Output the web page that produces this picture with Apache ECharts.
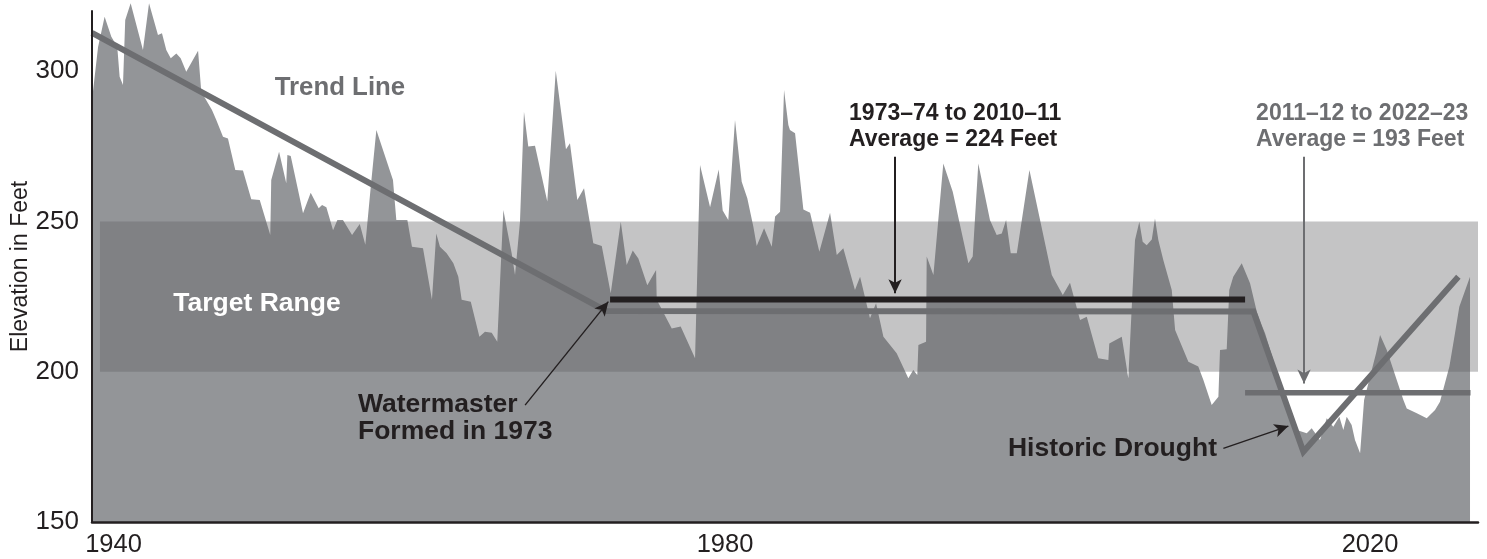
<!DOCTYPE html>
<html><head><meta charset="utf-8">
<script src="https://cdn.jsdelivr.net/npm/echarts@6/dist/echarts.min.js"></script>
<style>html,body{margin:0;padding:0;background:#fff}#c{width:1487px;height:559px}</style>
</head><body><div id="c"></div>
<script>
// ---- data ----
const areaYears = [1940.00,1940.38,1940.79,1941.21,1941.58,1941.73,1941.94,1942.08,1942.42,1943.19,1943.57,1944.13,1944.38,1944.65,1944.93,1945.28,1945.55,1945.90,1946.64,1946.84,1947.51,1947.78,1948.20,1948.51,1948.97,1949.45,1949.97,1950.50,1951.16,1951.22,1951.71,1952.16,1952.23,1952.44,1953.21,1953.69,1954.19,1954.40,1954.67,1955.09,1955.36,1955.71,1956.28,1956.76,1957.11,1957.45,1957.80,1958.84,1959.05,1959.74,1960.03,1960.72,1961.28,1961.55,1961.78,1962.20,1962.62,1962.93,1963.14,1963.71,1964.25,1964.60,1965.02,1965.37,1965.75,1966.27,1966.48,1966.79,1967.04,1967.31,1967.73,1968.50,1969.03,1969.67,1969.92,1970.38,1970.80,1971.38,1971.91,1972.47,1973.10,1973.47,1973.85,1974.20,1974.76,1975.31,1975.35,1976.29,1976.85,1977.75,1978.06,1978.69,1979.23,1979.48,1979.83,1980.25,1980.67,1981.02,1981.40,1981.61,1982.07,1982.55,1982.76,1983.07,1983.32,1983.59,1983.69,1984.01,1984.53,1984.95,1985.53,1986.20,1986.62,1987.03,1987.76,1988.08,1988.70,1989.08,1989.54,1990.37,1991.10,1991.41,1991.66,1991.73,1992.21,1992.25,1992.67,1993.29,1993.88,1994.86,1995.13,1995.48,1996.21,1996.63,1996.95,1997.22,1997.51,1997.89,1998.68,2000.08,2000.77,2001.22,2001.85,2002.27,2002.99,2003.62,2003.68,2004.46,2004.87,2005.29,2005.56,2005.77,2006.02,2006.34,2006.54,2006.75,2007.06,2007.59,2007.80,2008.63,2009.25,2009.57,2010.09,2010.51,2010.61,2011.03,2011.19,2011.44,2011.97,2012.49,2012.91,2013.22,2013.43,2014.58,2015.41,2016.04,2016.35,2016.87,2017.29,2017.70,2018.08,2018.33,2018.54,2018.85,2019.06,2019.38,2019.63,2020.00,2020.38,2020.63,2021.05,2021.57,2022.09,2022.30,2022.93,2023.55,2024.07,2024.38,2024.97,2025.32,2025.59,2026.26];
const areaFeet = [290.4,308.0,318.1,311.4,308.1,298.1,295.4,317.0,322.6,307.0,322.6,312.0,312.6,307.0,304.3,305.9,304.3,299.8,306.8,293.1,287.1,283.7,278.2,277.6,267.1,266.9,257.4,257.1,245.5,263.8,273.2,262.7,272.1,271.8,252.7,259.5,254.4,255.5,254.7,247.1,250.5,250.5,245.5,249.1,242.2,261.5,280.4,263.8,250.5,250.5,241.6,241.1,223.9,246.0,241.6,239.4,236.1,231.6,223.9,223.3,211.6,213.3,213.0,210.0,253.8,239.4,232.2,249.9,286.5,274.9,275.2,256.6,300.1,274.0,276.0,257.1,261.0,242.7,241.8,226.1,249.9,235.5,240.3,237.7,228.8,233.8,223.9,214.4,215.0,204.5,268.8,254.7,267.3,253.6,250.5,283.7,263.2,257.7,248.2,241.8,247.7,241.6,251.6,253.2,293.7,282.1,280.4,279.3,254.0,252.9,239.9,252.9,238.8,241.1,227.2,231.6,217.8,222.8,211.6,206.1,197.8,200.6,198.9,208.9,210.0,238.3,232.2,269.3,259.9,236.1,238.3,269.3,250.5,245.5,246.0,250.5,239.4,239.4,267.1,232.2,225.5,229.6,217.2,218.3,204.5,203.9,209.4,211.6,197.8,243.8,249.9,243.2,242.1,244.0,251.0,243.8,237.2,227.2,213.9,203.3,201.7,197.2,188.9,191.7,207.2,207.5,227.2,231.6,236.1,229.4,220.0,215.5,212.8,192.8,180.6,179.5,181.2,177.3,184.5,181.7,185.0,180.6,185.0,182.3,177.3,172.9,190.6,198.3,206.1,212.2,207.2,198.9,190.6,187.8,186.2,184.5,187.3,190.0,201.7,212.8,221.6,231.6];

const xRange = [1940, 2026.76];
const yRange = [150, 320];
const xTicks = [1940, 1980, 2020];
const yTicks = [150, 200, 250, 300];

const targetRange = [200, 250];
const targetYears = [1940.5, 2026.76];

const trendYears = [1940, 1972.18, 2012.70, 2015.83, 2025.53];
const trendFeet  = [312.7, 220.2, 220.0, 173.4, 231.6];

const avg1Years = [1972.43, 2012.18];
const avg1Feet  = 224;
const avg2Years = [2012.18, 2026.29];
const avg2Feet  = 193;

// annotation texts, anchored in data units
const noteTexts  = ['Trend Line', 'Target Range', 'Watermaster\nFormed in 1973', '1973–74 to 2010–11\nAverage = 224 Feet', '2011–12 to 2022–23\nAverage = 193 Feet', 'Historic Drought'];
const noteYears  = [1955.52, 1950.33, 1956.65, 1987.39, 2012.87, 2010.42];
const noteFeet   = [294.4, 222.5, 184.4, 281.4, 281.4, 174.3];

// arrows: from -> to, in data units
const arrowFromYears = [1967.11, 1990.27, 2015.87, 2010.82];
const arrowFromFeet  = [188.9, 271.5, 271.5, 174.5];
const arrowToYears   = [1972.32, 1990.27, 2015.87, 2014.89];
const arrowToFeet    = [223.3, 226.1, 196.1, 181.9];

// ---- styles ----
const FONT = '"Liberation Sans", Arial, Helvetica, sans-serif';
const DARK = '#231f20';
const MID = '#6d6e71';
const AREA = '#939598';
const noteStyle = [
  {size: 25.8, color: MID, align: 'center', lh: 30},
  {size: 26.5, color: '#ffffff', align: 'center', lh: 30},
  {size: 26.5, color: DARK, align: 'left', lh: 27},
  {size: 23, color: DARK, align: 'left', lh: 26},
  {size: 23, color: MID, align: 'left', lh: 26},
  {size: 26.5, color: DARK, align: 'right', lh: 28}
];
const arrowColors = [DARK, DARK, MID, DARK];

const chart = echarts.init(document.getElementById('c'), null, {renderer: 'canvas'});

const zip = (xs, ys) => xs.map((x, i) => [x, Array.isArray(ys) ? ys[i] : ys]);

const option = {
  animation: false,
  backgroundColor: '#ffffff',
  grid: {left: 92, right: 9, top: 11, bottom: 37, containLabel: false, outerBoundsMode: 'none'},
  xAxis: {
    type: 'value', min: xRange[0], max: xRange[1], interval: xTicks[1] - xTicks[0],
    z: 6,
    axisLine: {show: true, onZero: false, lineStyle: {color: DARK, width: 2.5}},
    axisTick: {show: false},
    splitLine: {show: false},
    axisLabel: {
      show: true, margin: 10, showMaxLabel: false,
      fontSize: 25.5, fontFamily: FONT, color: DARK,
      formatter: function (v) {
        if (v === xTicks[0]) return '{a|' + v + '}';
        if (v === xTicks[1]) return '{b|' + v + '}';
        return '{c|' + v + '}';
      },
      rich: {
        a: {fontSize: 25.5, fontFamily: FONT, color: DARK, padding: [0, 0, 0, 43]},
        b: {fontSize: 25.5, fontFamily: FONT, color: DARK, padding: [0, 12, 0, 0]},
        c: {fontSize: 25.5, fontFamily: FONT, color: DARK}
      }
    }
  },
  yAxis: {
    type: 'value', min: yRange[0], max: yRange[1], interval: yTicks[1] - yTicks[0],
    z: 6,
    name: 'Elevation in Feet', nameLocation: 'middle', nameGap: 60, nameMoveOverlap: false,
    nameTextStyle: {fontSize: 23, fontFamily: FONT, color: DARK},
    axisLine: {show: true, onZero: false, lineStyle: {color: DARK, width: 2}},
    axisTick: {show: false},
    splitLine: {show: false},
    axisLabel: {margin: 13, showMaxLabel: false, fontSize: 26, fontFamily: FONT, color: DARK}
  },
  series: [
    {
      name: 'Elevation', type: 'line', z: 2, clip: false,
      data: zip(areaYears, areaFeet),
      symbol: 'none', lineStyle: {width: 0},
      areaStyle: {color: AREA, opacity: 1},
      itemStyle: {color: AREA}
    },
    {
      name: 'Target Range', type: 'line', z: 3, data: [],
      markArea: {
        silent: true, z: 3,
        itemStyle: {color: 'rgba(95,96,98,0.37)', borderWidth: 0},
        data: [[{coord: [targetYears[0], targetRange[0]]}, {coord: [targetYears[1], targetRange[1]]}]]
      }
    },
    {
      name: 'Trend Line', type: 'line', z: 4, symbol: 'none',
      data: zip(trendYears, trendFeet),
      lineStyle: {color: MID, width: 6, join: 'miter', cap: 'butt'}
    },
    {
      name: 'Average 1973–2011', type: 'line', z: 4, symbol: 'none',
      data: zip(avg1Years, avg1Feet),
      lineStyle: {color: DARK, width: 6, cap: 'butt'}
    },
    {
      name: 'Average 2011–2023', type: 'line', z: 4, symbol: 'none',
      data: zip(avg2Years, avg2Feet),
      lineStyle: {color: MID, width: 5.5, cap: 'butt'}
    },
    {
      name: 'Arrows', type: 'line', z: 5, data: [],
      markLine: {
        silent: true, z: 5, animation: false,
        symbolSize: [10, 14],
        label: {show: false},
        lineStyle: {type: 'solid', width: 1.6},
        data: arrowFromYears.map((x, i) => [
          {coord: [x, arrowFromFeet[i]], symbol: 'none', lineStyle: {color: arrowColors[i], type: 'solid', width: (i === 0 || i === 3) ? 1.4 : 2}},
          {coord: [arrowToYears[i], arrowToFeet[i]], symbol: 'arrow'}
        ])
      }
    }
  ]
};
chart.setOption(option);

const graphics = noteTexts.map((t, i) => {
  const p = chart.convertToPixel({gridIndex: 0}, [noteYears[i], noteFeet[i]]);
  const s = noteStyle[i];
  return {
    type: 'text', x: p[0], y: p[1], z: 10, silent: true,
    style: {
      text: t, fill: s.color, fontSize: s.size, fontWeight: 'bold', fontFamily: FONT,
      align: s.align, verticalAlign: 'middle', lineHeight: s.lh
    }
  };
});
chart.setOption({graphic: graphics});
</script>
</body></html>
